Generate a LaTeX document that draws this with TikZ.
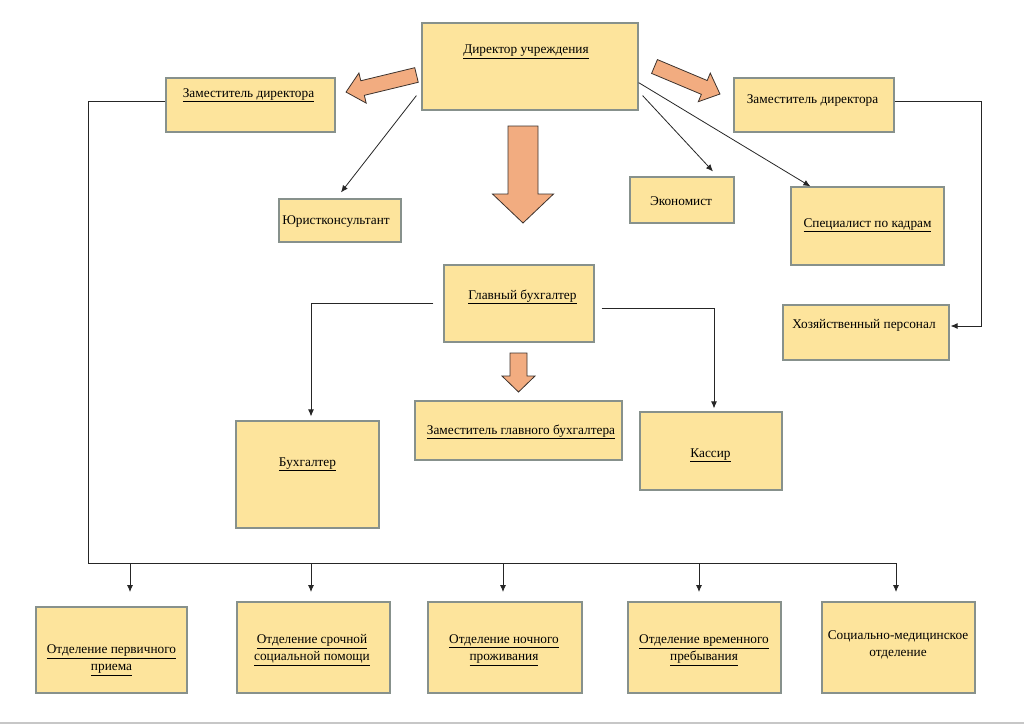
\documentclass[tikz,border=0pt]{standalone}
\usepackage{fontspec}
\setmainfont{Liberation Serif}
\newfontfamily\tnr{Liberation Serif}
\usetikzlibrary{arrows.meta,fit,calc}
\definecolor{boxfill}{RGB}{253,228,156}
\definecolor{boxline}{RGB}{135,145,140}
\definecolor{fatfill}{RGB}{242,172,128}
\definecolor{fatline}{RGB}{60,50,45}
\tikzset{
 box/.style={draw=boxline, line width=1.2pt, fill=boxfill, inner sep=0pt},
 lbl/.style={font=\tnr\fontsize{13.3}{17}\selectfont, inner sep=0pt, anchor=base},
 lbltwo/.style={font=\tnr\fontsize{13.3}{17}\selectfont, inner sep=0pt, align=center},
 conn/.style={draw=black!85, line width=0.8pt, -{Latex[length=7pt,width=6pt]}},
 link/.style={draw=black!85, line width=0.8pt},
 fat/.style={draw=fatline, line width=0.8pt, fill=fatfill},
}
% x y angle length headlen headhalf shafthalf
\newcommand{\myfatarrow}[7]{%
 \path[fat, shift={(#1,#2)}, rotate=#3] (0,#7) -- ({#4-#5},#7) -- ({#4-#5},#6) -- (#4,0) -- ({#4-#5},-#6) -- ({#4-#5},-#7) -- (0,-#7) -- cycle;}
\begin{document}
\begin{tikzpicture}[x=1pt,y=-1pt]
\path[use as bounding box, fill=white] (0,0) rectangle (1024,725);
\draw[black!22, line width=1.5pt] (0,723) -- (1024,723);

% boxes
\node[box, fit={(422,23) (638,110)}] (dir) {};
\node[box, fit={(166,78) (335,132)}] (depL) {};
\node[box, fit={(734,78) (894,132)}] (depR) {};
\node[box, fit={(279,199) (401,242)}] (yur) {};
\node[box, fit={(630,177) (734,223)}] (econ) {};
\node[box, fit={(791,187) (944,265)}] (spec) {};
\node[box, fit={(783,305) (949,360)}] (hoz) {};
\node[box, fit={(444,265) (594,342)}] (gb) {};
\node[box, fit={(415,401) (622,460)}] (zgb) {};
\node[box, fit={(236,421) (379,528)}] (buh) {};
\node[box, fit={(640,412) (782,490)}] (kas) {};
\node[box, fit={(36,607) (187,693)}] (b1) {};
\node[box, fit={(237,602) (390,693)}] (b2) {};
\node[box, fit={(428,602) (582,693)}] (b3) {};
\node[box, fit={(628,602) (781,693)}] (b4) {};
\node[box, fit={(822,602) (975,693)}] (b5) {};

% texts
\node[lbl] (tdir) at (526,54) {\underline{Директор учреждения}};
\node[lbl] (tdepL) at (248.5,97) {\underline{Заместитель директора}};
\node[lbl] (tdepR) at (812.5,103) {Заместитель директора};
\node[lbl] (tyur) at (336,224) {Юристконсультант};
\node[lbl] (tecon) at (681,205) {Экономист};
\node[lbl] (tspec) at (867.5,227) {\underline{Специалист по кадрам}};
\node[lbl] (thoz) at (864,328) {Хозяйственный персонал};
\node[lbl] (tgb) at (522.5,299) {\underline{Главный бухгалтер}};
\node[lbl] (tzgb) at (521,434) {\underline{Заместитель главного бухгалтера}};
\node[lbl] (tbuh) at (307.5,466) {\underline{Бухгалтер}};
\node[lbl] (tkas) at (710.5,457) {\underline{Кассир}};
\node[lbltwo] (tb1) at (111.5,660) {\underline{Отделение первичного}\\\underline{приема}};
\node[lbltwo] (tb2) at (312,650) {\underline{Отделение срочной}\\\underline{социальной помощи}};
\node[lbltwo] (tb3) at (504,650) {\underline{Отделение ночного}\\\underline{проживания}};
\node[lbltwo] (tb4) at (704,650) {\underline{Отделение временного}\\\underline{пребывания}};
\node[lbltwo] (tb5) at (898,645) {Социально-медицинское\\отделение};

% fat arrows
\myfatarrow{416.5}{75}{193.6}{72.5}{17}{15.5}{7.5}
\myfatarrow{654.5}{66.5}{-22.8}{71}{17}{15.5}{7.5}
\myfatarrow{523}{126}{-90}{97}{29}{30.5}{15}
\myfatarrow{518.5}{353}{-90}{39}{16}{16.5}{8.5}

% thin connectors from director
\draw[conn] ($(dir.south west)+(-5,-15)$) -- ($(yur.north)+(1,-6)$);
\draw[conn] ($(dir.south east)+(4,-15)$) -- ($(econ.north)+(31,-5)$);
\draw[conn] ($(dir.south east)+(0,-28)$) -- ($(spec.north west)+(20,0)$);

% right deputy to household staff
\draw[conn] ($(depR.east)+(0,-4)$) -- (981,101) -- (981,326) -- ($(hoz.east)+(1,-6.5)$);

% chief accountant
\draw[conn] ($(gb.west)+(-10,0)$) -| ($(buh.north)+(3.5,-4)$);
\draw[conn] ($(gb.east)+(7,4.5)$) -| ($(kas.north)+(3,-3)$);

% left deputy bus
\coordinate (j1) at (130,563);
\coordinate (j2) at (311,563);
\coordinate (j3) at (503,563);
\coordinate (j4) at (699,563);
\coordinate (j5) at (896,563);
\draw[link] ($(depL.west)+(0,-4)$) -- (88,101) -- (88,563) -- (j5);
\draw[conn] (j1) -- (j1 |- 0,592);
\draw[conn] (j2) -- (j2 |- 0,592);
\draw[conn] (j3) -- (j3 |- 0,592);
\draw[conn] (j4) -- (j4 |- 0,592);
\draw[conn] (j5) -- (j5 |- 0,592);
\end{tikzpicture}
\end{document}
